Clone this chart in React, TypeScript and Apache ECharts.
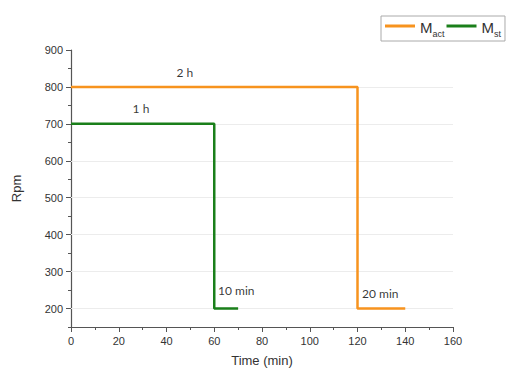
import React, { useEffect, useRef } from "react";
import * as echarts from "echarts";

const actTime = [0, 120, 120, 140];
const actRpm = [800, 800, 200, 200];
const stTime = [0, 60, 60, 70];
const stRpm = [700, 700, 200, 200];
const seriesNames = ["Mact", "Mst"];
const subscripts = ["act", "st"];
const yTicks = [200, 300, 400, 500, 600, 700, 800, 900];
const noteX = [47.7, 29.3, 61.6, 121.9];
const noteY = [840, 742, 248, 242];
const noteText = ["2 h", "1 h", "10 min", "20 min"];
const noteAlign = ["center", "center", "left", "left"];

export default function App() {
  const ref = useRef<HTMLDivElement>(null);
  useEffect(() => {
    const chart = echarts.init(ref.current!, null, { renderer: "svg" });
    const font = "Liberation Sans, Arial";
    const lineCol = "#555";
    chart.setOption({
      animation: false,
      backgroundColor: "#fff",
      grid: { left: 71, right: 67, top: 50, bottom: 39, containLabel: false },
      legend: {
        right: 15,
        top: 16,
        itemWidth: 30,
        itemHeight: 3,
        itemGap: 2,
        padding: [4, 4, 3, 4],
        borderColor: "#aaa",
        borderWidth: 1,
        icon: "rect",
        data: seriesNames,
        formatter: (name: string) => {
          const i = seriesNames.indexOf(name);
          return "{m|M}{s|" + subscripts[i] + "}";
        },
        textStyle: {
          rich: {
            m: { fontSize: 15, color: "#333", fontFamily: font, verticalAlign: "bottom", lineHeight: 18 },
            s: { fontSize: 9, color: "#333", fontFamily: font, verticalAlign: "bottom", lineHeight: 14, padding: [0, 0, -3, 0] },
          },
        },
      },
      xAxis: {
        type: "value",
        min: 0,
        max: 160,
        interval: 20,
        name: "Time (min)",
        nameLocation: "middle",
        nameGap: 27,
        splitLine: { show: false },
        axisLine: { show: true, lineStyle: { color: lineCol, width: 1.2 } },
        axisTick: { show: true, length: 5, lineStyle: { color: lineCol } },
        minorTick: { show: true, splitNumber: 2, length: 3, lineStyle: { color: lineCol } },
        axisLabel: { color: "#333", fontSize: 11, fontFamily: font },
        nameTextStyle: { color: "#333", fontSize: 13, fontFamily: font },
      },
      yAxis: [
        {
          type: "value",
          min: 150,
          max: 900,
          interval: 50,
          position: "left",
          name: "Rpm",
          nameLocation: "middle",
          nameGap: 48,
          splitLine: { show: false },
          axisLine: { show: true, lineStyle: { color: lineCol, width: 1.2 } },
          axisTick: { show: true, length: 5, customValues: yTicks, lineStyle: { color: lineCol } },
          axisLabel: { color: "#333", fontSize: 11, fontFamily: font, customValues: yTicks },
          nameTextStyle: { color: "#333", fontSize: 13, fontFamily: font },
        },
        {
          type: "value",
          min: 150,
          max: 900,
          interval: 50,
          position: "left",
          offset: 0,
          splitLine: { show: false },
          axisLine: { show: false },
          axisTick: { show: true, length: 3, lineStyle: { color: lineCol } },
          axisLabel: { show: false },
        },
      ],
      series: [
        {
          name: seriesNames[0],
          type: "line",
          data: actTime.map((t, i) => [t, actRpm[i]]),
          showSymbol: false,
          symbol: "none",
          lineStyle: { color: "#f7931e", width: 2.5 },
          itemStyle: { color: "#f7931e" },
          z: 3,
          markLine: {
            silent: true,
            symbol: "none",
            label: { show: false },
            lineStyle: { color: "#ececec", type: "solid", width: 1 },
            data: yTicks.slice(0, 7).map((v) => ({ yAxis: v })),
            z: 1,
          },
        },
        {
          name: seriesNames[1],
          type: "line",
          data: stTime.map((t, i) => [t, stRpm[i]]),
          showSymbol: false,
          symbol: "none",
          lineStyle: { color: "#1a7f1a", width: 2.5 },
          itemStyle: { color: "#1a7f1a" },
          z: 3,
        },
        {
          name: "notes",
          type: "scatter",
          symbolSize: 0,
          silent: true,
          data: noteX.map((x, i) => ({
            value: [x, noteY[i]],
            label: {
              show: true,
              position: "inside",
              formatter: noteText[i],
              align: noteAlign[i],
              color: "#000",
              fontSize: 12,
              fontFamily: "Lato, Open Sans",
            },
          })),
        },
      ],
    });
    return () => chart.dispose();
  }, []);
  return <div ref={ref} style={{ position: "fixed", left: 0, top: 0, width: 520, height: 372 }} />;
}
